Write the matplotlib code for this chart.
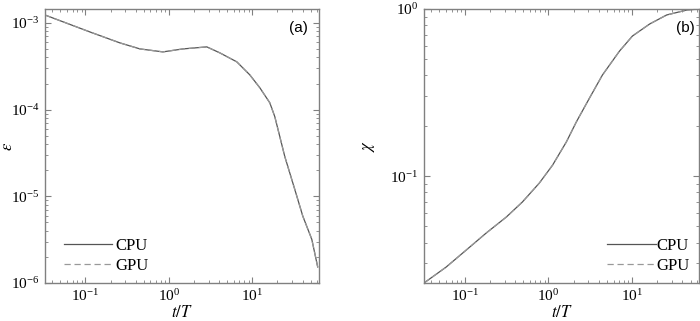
import numpy as np
import matplotlib
matplotlib.use("Agg")
import matplotlib.pyplot as plt
from matplotlib.ticker import LogLocator, NullFormatter

plt.rcParams['font.family'] = ['Liberation Serif', 'DejaVu Serif']
plt.rcParams['mathtext.fontset'] = 'stix'

# (a) error vs time
t_a = [0.0327, 0.113, 0.259, 0.45, 0.848, 1.47, 2.85, 4.08, 6.52, 9.33, 12.3, 16.2,
       18.6, 24.5, 32.3, 40.3, 51.6, 60.8]
eps = [1.236e-3, 7.88e-4, 5.89e-4, 5.02e-4, 4.64e-4, 5.02e-4, 5.3e-4, 4.52e-4, 3.56e-4,
       2.52e-4, 1.79e-4, 1.20e-4, 8.3e-5, 2.88e-5, 1.2e-5, 5.9e-6, 3.2e-6, 1.53e-6]

# (b) chi vs time
t_b = [0.0327, 0.060, 0.104, 0.181, 0.314, 0.489, 0.78, 1.12, 1.64, 2.16, 3.1, 4.43,
       7.08, 10.1, 16.2, 25.9, 45, 62.5]
chi = [0.0229, 0.0285, 0.036, 0.0456, 0.0568, 0.0699, 0.0908, 0.116, 0.160, 0.211,
       0.293, 0.403, 0.56, 0.689, 0.813, 0.921, 0.986, 1.0]

spine_col = '#808080'
cpu_col = '#555555'
gpu_col = '#999999'

fig = plt.figure(figsize=(7.0, 3.21), dpi=100)
ax1 = fig.add_axes([45 / 700, 38 / 321, 274 / 700, 274 / 321])
ax2 = fig.add_axes([424 / 700, 38 / 321, 275 / 700, 274 / 321])


def style(ax):
    ax.set_xscale('log')
    ax.set_yscale('log')
    for s in ax.spines.values():
        s.set_color(spine_col)
        s.set_linewidth(1.0)
    ax.tick_params(which='both', direction='in', top=True, right=True,
                   color=spine_col, labelsize=11, pad=4)
    ax.tick_params(which='major', length=4)
    ax.tick_params(which='minor', length=2)
    ax.xaxis.set_minor_locator(LogLocator(base=10, subs=np.arange(2, 10)))
    ax.yaxis.set_minor_locator(LogLocator(base=10, subs=np.arange(2, 10)))
    ax.xaxis.set_minor_formatter(NullFormatter())
    ax.yaxis.set_minor_formatter(NullFormatter())
    ax.set_xlabel(r'$t/T$', fontsize=12)
    ax.xaxis.set_label_coords(0.5, -0.08)


ax1.plot(t_a, eps, color=cpu_col, lw=0.9, label='CPU')
ax1.plot(t_a, eps, color=gpu_col, lw=0.9, ls=(0, (5, 3)), label='GPU')
style(ax1)
ax1.set_xlim(0.0327, 63)
ax1.set_ylim(1e-6, 1.45e-3)
ax1.set_ylabel(r'$\varepsilon$', fontsize=12)
ax1.yaxis.set_label_coords(-0.105, 0.5)
ax1.text(0.96, 0.93, '(a)', transform=ax1.transAxes, ha='right', va='center',
         fontsize=11, family='Liberation Sans')
ax1.legend(loc='lower left', frameon=False, fontsize=12, handlelength=2.9,
           handletextpad=0.2, labelspacing=0.25, borderaxespad=0.15,
           bbox_to_anchor=(0.035, 0.0))

ax2.plot(t_b, chi, color=cpu_col, lw=0.9, label='CPU')
ax2.plot(t_b, chi, color=gpu_col, lw=0.9, ls=(0, (5, 3)), label='GPU')
style(ax2)
ax2.set_xlim(0.0327, 63)
ax2.set_ylim(0.0229, 1.0)
ax2.set_ylabel(r'$\chi$', fontsize=12)
ax2.yaxis.set_label_coords(-0.17, 0.5)
ax2.text(0.985, 0.93, '(b)', transform=ax2.transAxes, ha='right', va='center',
         fontsize=11, family='Liberation Sans')
ax2.legend(loc='lower right', frameon=False, fontsize=12, handlelength=2.9,
           handletextpad=0.05, labelspacing=0.25, borderaxespad=0.15)

fig.savefig('out.png', dpi=100)
